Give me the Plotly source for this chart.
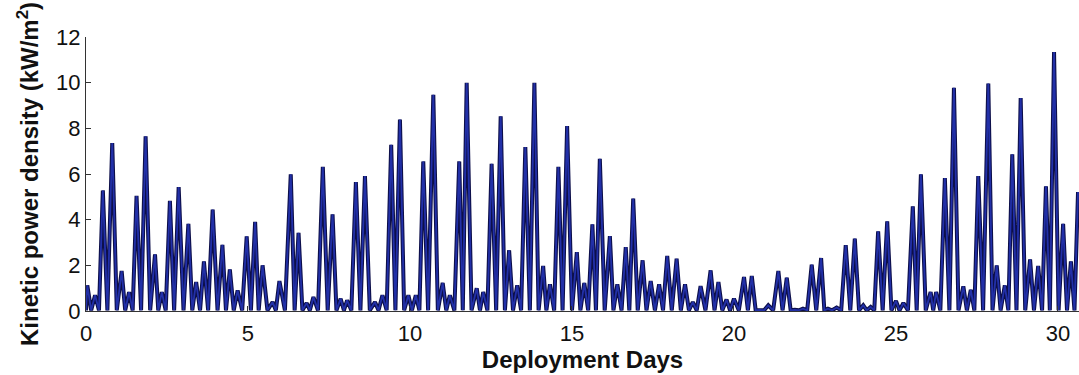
import plotly.graph_objects as go

# Tidal-stream kinetic power density over the deployment period.
# Each flood/ebb maximum (day, kW/m^2) followed by the slack-water minima between them.
peak_day = [
    0.04, 0.28, 0.52, 0.81, 1.10, 1.33, 1.56, 1.84, 2.13, 2.34,
    2.59, 2.86, 3.16, 3.40, 3.64, 3.91, 4.21, 4.44, 4.68, 4.96,
    5.22, 5.45, 5.76, 5.97, 6.32, 6.56, 6.81, 7.02, 7.31, 7.61,
    7.86, 8.06, 8.33, 8.61, 8.92, 9.15, 9.42, 9.69, 9.95, 10.18,
    10.41, 10.72, 11.01, 11.23, 11.52, 11.75, 12.06, 12.26, 12.52, 12.80,
    13.06, 13.31, 13.56, 13.84, 14.11, 14.32, 14.58, 14.85, 15.15, 15.38,
    15.63, 15.86, 16.17, 16.40, 16.66, 16.89, 17.18, 17.43, 17.69, 17.94,
    18.23, 18.49, 18.73, 18.97, 19.28, 19.52, 19.77, 20.00, 20.31, 20.55,
    20.80, 21.06, 21.37, 21.63, 21.88, 22.13, 22.40, 22.69, 22.90, 23.17,
    23.45, 23.73, 23.99, 24.22, 24.45, 24.73, 25.00, 25.23, 25.52, 25.77,
    26.07, 26.24, 26.51, 26.79, 27.08, 27.31, 27.54, 27.85, 28.11, 28.36,
    28.59, 28.85, 29.14, 29.39, 29.63, 29.88, 30.16, 30.40, 30.62,
]
peak_kw = [
    1.12, 0.69, 5.28, 7.36, 1.75, 0.83, 5.04, 7.65, 2.48, 0.83,
    4.82, 5.43, 3.82, 1.27, 2.17, 4.44, 2.90, 1.82, 0.90, 3.27,
    3.90, 2.00, 0.39, 1.31, 5.99, 3.42, 0.35, 0.61, 6.31, 4.23,
    0.54, 0.47, 5.65, 5.91, 0.39, 0.69, 7.28, 8.39, 0.69, 0.69,
    6.55, 9.47, 1.23, 0.69, 6.55, 9.99, 1.00, 0.83, 6.45, 8.53,
    2.66, 1.12, 7.18, 9.99, 1.97, 1.17, 6.31, 8.10, 2.58, 1.23,
    3.80, 6.67, 3.28, 1.17, 2.80, 4.92, 2.22, 1.31, 1.17, 2.41,
    2.29, 1.17, 0.39, 1.09, 1.78, 1.27, 0.50, 0.54, 1.49, 1.53,
    0.05, 0.25, 1.75, 1.46, 0.05, 0.10, 2.03, 2.32, 0.10, 0.15,
    2.88, 3.17, 0.25, 0.18, 3.49, 3.93, 0.44, 0.35, 4.58, 5.99,
    0.83, 0.83, 5.82, 9.78, 1.08, 0.93, 5.91, 9.96, 2.00, 1.12,
    6.86, 9.33, 2.26, 1.97, 5.46, 11.34, 3.82, 2.17, 5.21,
]
slack_day = [
    0.00, 0.16, 0.40, 0.66, 0.95, 1.21, 1.44, 1.70, 1.98, 2.23,
    2.46, 2.72, 3.01, 3.28, 3.52, 3.77, 4.06, 4.32, 4.56, 4.82,
    5.09, 5.33, 5.60, 5.86, 6.14, 6.44, 6.68, 6.91, 7.16, 7.46,
    7.73, 7.96, 8.19, 8.47, 8.76, 9.03, 9.28, 9.55, 9.82, 10.06,
    10.29, 10.56, 10.86, 11.12, 11.37, 11.63, 11.90, 12.16, 12.39, 12.66,
    12.93, 13.18, 13.43, 13.70, 13.97, 14.21, 14.45, 14.71, 15.00, 15.26,
    15.50, 15.74, 16.01, 16.28, 16.53, 16.77, 17.03, 17.30, 17.56, 17.81,
    18.08, 18.36, 18.61, 18.85, 19.12, 19.40, 19.64, 19.88, 20.15, 20.43,
    20.67, 20.93, 21.21, 21.50, 21.75, 22.00, 22.26, 22.54, 22.79, 23.03,
    23.31, 23.59, 23.86, 24.10, 24.33, 24.59, 24.86, 25.11, 25.37, 25.64,
    25.92, 26.15, 26.37, 26.65, 26.93, 27.19, 27.42, 27.69, 27.98, 28.23,
    28.47, 28.72, 28.99, 29.26, 29.51, 29.75, 30.02, 30.28, 30.51,
]
slack_kw = [0.03] * len(slack_day)

x_ticks = [0, 5, 10, 15, 20, 25, 30]
y_ticks = [0, 2, 4, 6, 8, 10, 12]

# merge maxima and slack points into one time-ordered record
record = sorted(zip(peak_day + slack_day, peak_kw + slack_kw))
days = [d for d, _ in record]
power = [p for _, p in record]

fig = go.Figure()
# dark outline under a brighter blue core gives the inked navy trace
fig.add_trace(
    go.Scatter(x=days, y=power, mode="lines",
               line=dict(color="#0d0f4a", width=4), hoverinfo="skip")
)
fig.add_trace(
    go.Scatter(x=days, y=power, mode="lines",
               line=dict(color="#2230a8", width=1.8), hoverinfo="x+y")
)

axis_font = dict(family="Liberation Sans, Arial, sans-serif", size=22, color="#111111")
title_font = dict(family="Liberation Sans, Arial, sans-serif", size=24, color="#111111")

fig.update_layout(
    width=1079,
    height=375,
    margin=dict(l=86, r=0, t=37, b=64),
    paper_bgcolor="white",
    plot_bgcolor="white",
    showlegend=False,
    font=axis_font,
    xaxis=dict(
        range=[0, 30.65],
        tickvals=x_ticks,
        ticktext=[str(v) for v in x_ticks],
        ticks="inside",
        ticklen=5,
        tickcolor="#333333",
        ticklabelstandoff=3,
        showline=True,
        linecolor="#333333",
        linewidth=1,
        showgrid=False,
        zeroline=False,
        tickfont=axis_font,
        title=dict(text="<b>Deployment Days</b>", font=title_font, standoff=4),
    ),
    yaxis=dict(
        range=[0, 12],
        tickvals=y_ticks,
        ticktext=[str(v) for v in y_ticks],
        ticks="inside",
        ticklen=5,
        tickcolor="#333333",
        showline=True,
        linecolor="#333333",
        linewidth=1,
        showgrid=False,
        zeroline=False,
        tickfont=axis_font,
        title=dict(text="<b>Kinetic power density (kW/m<sup>2</sup>)</b>", font=title_font, standoff=10),
    ),
)

fig.write_html("out.html")
